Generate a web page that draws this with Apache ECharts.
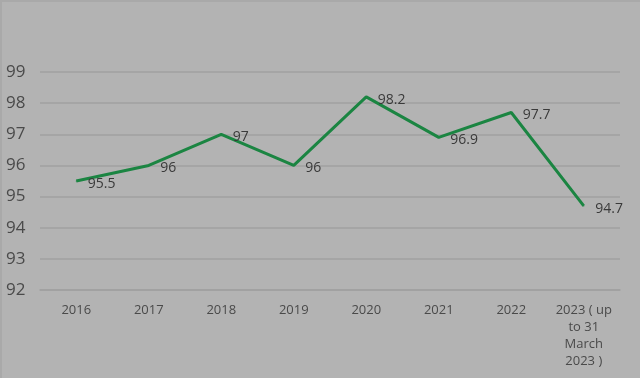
<!DOCTYPE html>
<html>
<head>
<meta charset="utf-8">
<script src="https://cdn.jsdelivr.net/npm/echarts@6/dist/echarts.min.js"></script>
<style>
    html, body { margin: 0; padding: 0; background: #b3b3b3; }
    #chart { width: 640px; height: 378px; box-sizing: border-box; border-left: 2px solid #a9a9a9; border-top: 2px solid #a9a9a9; }
</style>
</head>
<body>
<div id="chart"></div>
<script>
var years = ['2016', '2017', '2018', '2019', '2020', '2021', '2022', '2023 ( up\nto 31\nMarch\n2023 )'];
var values = [95.5, 96, 97, 96, 98.2, 96.9, 97.7, 94.7];
var yTicks = { min: 92, max: 99, step: 1 };

var chart = echarts.init(document.getElementById('chart'));
var option = {
    backgroundColor: '#b3b3b3',
    animation: false,
    grid: {
        left: 38,
        right: 20,
        top: 70,
        bottom: 88
    },
    xAxis: {
        type: 'category',
        data: years,
        boundaryGap: true,
        axisLine: { lineStyle: { color: '#a0a0a0', width: 1.5 } },
        axisTick: { show: false },
        axisLabel: {
            color: '#4a4a4a',
            fontSize: 13,
            fontFamily: 'Open Sans',
            lineHeight: 17,
            margin: 12,
            interval: 0
        }
    },
    yAxis: {
        type: 'value',
        min: yTicks.min,
        max: yTicks.max,
        interval: yTicks.step,
        axisLine: { show: false },
        axisTick: { show: false },
        splitLine: { lineStyle: { color: '#a0a0a0', width: 1.5 } },
        axisLabel: {
            color: '#4a4a4a',
            fontSize: 17,
            fontFamily: 'Open Sans',
            align: 'left',
            margin: 34
        }
    },
    series: [{
        type: 'line',
        data: values,
        symbol: 'circle',
        symbolSize: 1,
        showSymbol: true,
        itemStyle: { color: '#1b8542' },
        lineStyle: { color: '#1b8542', width: 3 },
        label: {
            show: true,
            position: 'right',
            distance: 11,
            offset: [0, 3],
            color: '#3a3a3a',
            fontSize: 14,
            fontFamily: 'Open Sans'
        }
    }]
};
chart.setOption(option);
</script>
</body>
</html>
